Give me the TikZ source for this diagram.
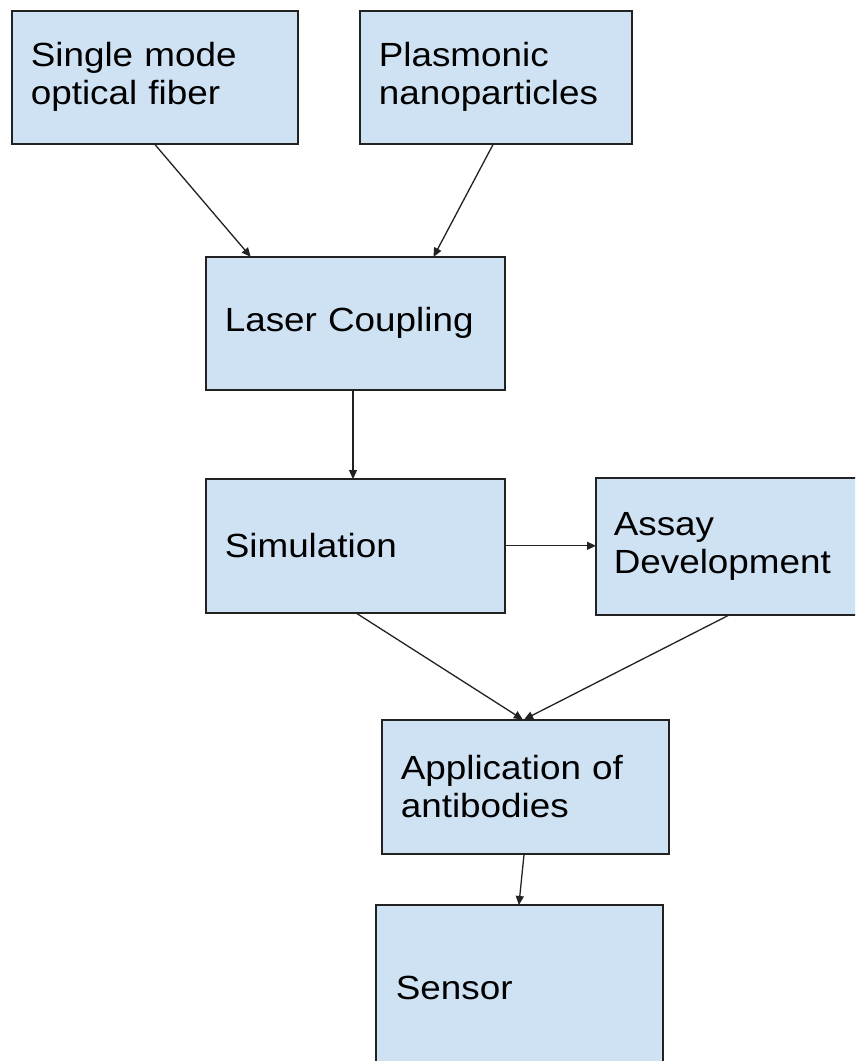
\documentclass[tikz,border=0pt]{standalone}
\usepackage{fontspec}
\setmainfont{Liberation Sans}[FakeStretch=1.1]
\usetikzlibrary{arrows.meta}
\definecolor{boxfill}{HTML}{CFE2F3}
\definecolor{edge}{HTML}{222222}
\tikzset{
  box/.style={draw=edge, fill=boxfill, line width=1.6pt, rectangle, anchor=north west,
    inner xsep=19pt, inner ysep=0pt, align=left, text=black,
    font=\fontsize{33.5}{38}\selectfont},
  conn/.style={draw=edge, line width=1.3pt, -{Triangle[length=9pt,width=8pt]}, shorten >=-1pt}
}
\begin{document}
\begin{tikzpicture}[x=1pt,y=-1pt]
\useasboundingbox (0,0) rectangle (855,1061);
\clip (0,0) rectangle (855,1061);
\fill[white] (0,0) rectangle (855,1061);
\node[box, minimum width=286pt, minimum height=133pt, text width=248pt] (sm) at (11,10) {Single mode\\optical fiber};
\node[box, minimum width=272pt, minimum height=133pt, text width=234pt] (pl) at (359,10) {Plasmonic\\nanoparticles};
\node[box, minimum width=299pt, minimum height=133pt, text width=261pt] (lc) at (205,256) {Laser Coupling};
\node[box, minimum width=299pt, minimum height=134pt, text width=261pt] (sim) at (205,478) {Simulation};
\node[box, minimum width=286pt, minimum height=137pt, text width=250pt, inner xsep=18pt] (as) at (595,477) {Assay\\Development};
\node[box, minimum width=287pt, minimum height=134pt, text width=249pt] (app) at (381,719) {Application of\\antibodies};
\node[box, minimum width=287pt, minimum height=166pt, text width=247pt, inner xsep=20pt] (sen) at (375,904) {Sensor};
\draw[conn] ([xshift=144pt]sm.south west) -- ([xshift=45pt]lc.north west);
\draw[conn] ([xshift=134pt]pl.south west) -- ([xshift=229pt]lc.north west);
\draw[conn] ([xshift=148pt]lc.south west) -- ([xshift=148pt]sim.north west);
\draw[conn] (sim.east) -- (sim.east -| as.west);
\draw[conn] ([xshift=152pt]sim.south west) -- ([xshift=141pt]app.north west);
\draw[conn] ([xshift=133pt]as.south west) -- ([xshift=144pt]app.north west);
\draw[conn] ([xshift=143pt]app.south west) -- ([xshift=144pt]sen.north west);
\end{tikzpicture}
\end{document}
